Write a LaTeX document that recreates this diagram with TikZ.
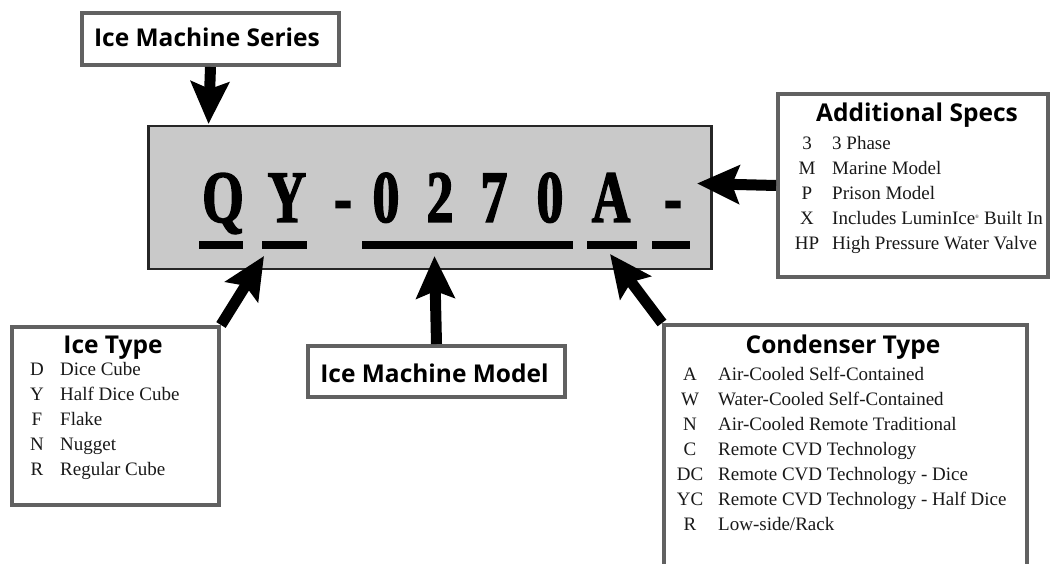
\documentclass[tikz,border=0pt]{standalone}
\usepackage{fontspec}
\setmainfont{Liberation Serif}
\newfontfamily\headfont{Open Sans}
\newfontfamily\codefont{Liberation Serif}[FakeStretch=0.72, FakeBold=2]
\usetikzlibrary{arrows.meta}
\tikzset{
  x=1pt, y=-1pt,
  box/.style={draw=black!62, line width=4pt, fill=white, inner sep=0pt, anchor=north west},
  codebox/.style={draw=black!85, line width=2.5pt, fill=black!21, inner sep=0pt, anchor=north west},
  title/.style={font=\headfont\bfseries\fontsize{24.5pt}{26pt}\selectfont, anchor=base, inner sep=0pt},
  code/.style={font=\codefont\bfseries\fontsize{74pt}{74pt}\selectfont, anchor=base, inner sep=0pt},
  key/.style={font=\fontsize{19pt}{21pt}\selectfont, anchor=base, inner sep=0pt, text=black!90},
  desc/.style={font=\fontsize{19pt}{21pt}\selectfont, anchor=base west, inner sep=0pt, text=black!90},
  uline/.style={line width=8pt},
  bigarrow/.style={line width=11pt, -{Stealth[length=42pt, width=38pt, inset=7pt]}},
}
\begin{document}
\begin{tikzpicture}
\useasboundingbox (0,0) rectangle (1050,564);
\clip (0,0) rectangle (1050,564);

% boxes
\node[box, minimum width=257pt, minimum height=52pt] (series) at (80,11) {};
\node[codebox, minimum width=563pt, minimum height=143pt] (codebox) at (147,125) {};
\node[box, minimum width=270pt, minimum height=183pt] (specs) at (776,92) {};
\node[box, minimum width=207pt, minimum height=178pt] (itype) at (10,325) {};
\node[box, minimum width=257pt, minimum height=51pt] (model) at (306,344) {};
\node[box, minimum width=363pt, minimum height=260pt] (cond) at (662,323) {};

% titles
\node[title] (seriesT) at (207,47) {Ice Machine Series};
\node[title] (modelT) at (434.5,382) {Ice Machine Model};
\node[title] (itypeT) at (113,353) {Ice Type};
\node[title] (condT) at (843,353) {Condenser Type};
\node[title] (specsT) at (917,122) {Additional Specs};

% code characters
\node[code] (cQ) at (223,222) {Q};
\node[code] (cY) at (287,222) {Y};
\node[code] (cD1) at (343,222) {-};
\node[code] (c0a) at (386,222) {0};
\node[code] (c2) at (440,222) {2};
\node[code] (c7) at (494,222) {7};
\node[code] (c0b) at (550,222) {0};
\node[code] (cA) at (611,222) {A};
\node[code] (cD2) at (673,222) {-};

% underlines
\draw[uline] (199,245) -- (243,245);
\draw[uline] (262,245) -- (307,245);
\draw[uline] (362,245) -- (573,245);
\draw[uline] (587,245) -- (637,245);
\draw[uline] (652,245) -- (690,245);

% arrows
\coordinate (seriesTip) at (208.5,124);
\coordinate (itypeTip) at (264,256);
\coordinate (modelTip) at (434.5,256);
\coordinate (condTip) at (610,254);
\coordinate (specsTip) at (697,183.5);
\draw[bigarrow] (series.south) -- (seriesTip);
\draw[bigarrow] (itype.north east) -- (itypeTip);
\draw[bigarrow] (model.north) -- (modelTip);
\draw[bigarrow] (cond.north west) -- (condTip);
\draw[bigarrow] (specs.west) -- (specsTip);

% Additional Specs list
\node[key] (s1k) at (807,150) {3};  \node[desc] (s1d) at (832,150) {3 Phase};
\node[key] (s2k) at (807,175) {M};  \node[desc] (s2d) at (832,175) {Marine Model};
\node[key] (s3k) at (807,200) {P};  \node[desc] (s3d) at (832,200) {Prison Model};
\node[key] (s4k) at (807,225) {X};  \node[desc] (s4d) at (832,225) {Includes LuminIce\textsuperscript{\tiny\textregistered} Built In};
\node[key] (s5k) at (807,250) {HP}; \node[desc] (s5d) at (832,250) {High Pressure Water Valve};

% Ice Type list
\node[key] (i1k) at (37,375) {D}; \node[desc] (i1d) at (60,375) {Dice Cube};
\node[key] (i2k) at (37,400) {Y}; \node[desc] (i2d) at (60,400) {Half Dice Cube};
\node[key] (i3k) at (37,425) {F}; \node[desc] (i3d) at (60,425) {Flake};
\node[key] (i4k) at (37,450) {N}; \node[desc] (i4d) at (60,450) {Nugget};
\node[key] (i5k) at (37,475) {R}; \node[desc] (i5d) at (60,475) {Regular Cube};

% Condenser Type list
\node[key] (k1k) at (690,380) {A};  \node[desc] (k1d) at (718,380) {Air-Cooled Self-Contained};
\node[key] (k2k) at (690,405) {W};  \node[desc] (k2d) at (718,405) {Water-Cooled Self-Contained};
\node[key] (k3k) at (690,430) {N};  \node[desc] (k3d) at (718,430) {Air-Cooled Remote Traditional};
\node[key] (k4k) at (690,455) {C};  \node[desc] (k4d) at (718,455) {Remote CVD Technology};
\node[key] (k5k) at (690,480) {DC}; \node[desc] (k5d) at (718,480) {Remote CVD Technology - Dice};
\node[key] (k6k) at (690,505) {YC}; \node[desc] (k6d) at (718,505) {Remote CVD Technology - Half Dice};
\node[key] (k7k) at (690,530) {R};  \node[desc] (k7d) at (718,530) {Low-side/Rack};
\end{tikzpicture}
\end{document}
